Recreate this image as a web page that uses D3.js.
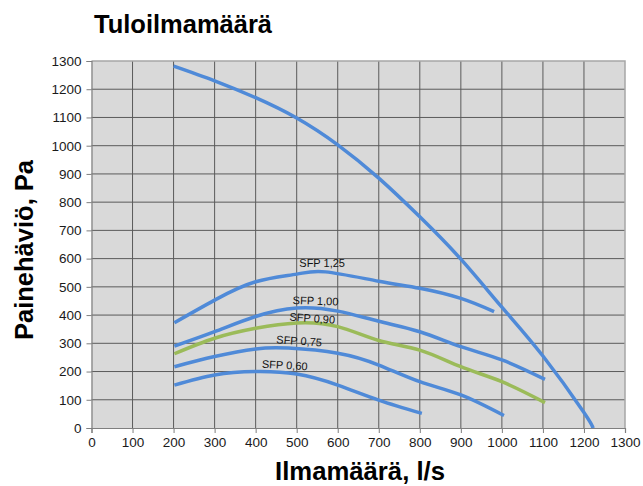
<!DOCTYPE html>
<html>
<head>
<meta charset="utf-8">
<script src="https://cdn.jsdelivr.net/npm/d3@7"></script>
<style>
  body { margin: 0; background: #fff; }
  text { font-family: "Liberation Sans", Arial, sans-serif; }
</style>
</head>
<body>
<svg id="chart" width="643" height="486"></svg>
<script>
// ilmamäärä (l/s) ja painehäviö (Pa), luettu kuvasta
var xTicks = [0,100,200,300,400,500,600,700,800,900,1000,1100,1200,1300];
var yTicks = [0,100,200,300,400,500,600,700,800,900,1000,1100,1200,1300];

var puhallin = [[200,1282],[300,1230],[400,1170],[500,1098],[600,1003],[700,885],[800,748],[900,598],[1000,428],[1100,255],[1200,55],[1222,0]];
var sfp125 = [[202,373],[300,453],[400,518],[500,545],[570,553],[700,520],[800,495],[900,459],[981,412]];
var sfp100 = [[202,290],[300,341],[400,395],[500,425],[600,414],[700,378],[800,341],[900,288],[1000,241],[1105,172]];
var sfp090 = [[202,263],[300,318],[400,353],[500,372],[600,359],[700,310],[800,276],[900,217],[1000,164],[1105,90]];
var sfp075 = [[202,217],[300,253],[400,280],[480,283],[600,265],[700,223],[800,164],[900,117],[1005,44]];
var sfp060 = [[202,152],[300,188],[400,200],[500,191],[600,152],[700,99],[805,52]];

// käyrien nimet ja nimen paikka (l/s, Pa)
var sarjat = [
  {data: puhallin, vari: "#4f8ad8"},
  {data: sfp125, vari: "#4f8ad8", nimi: "SFP 1,25", lx: 562, ly: 584, kulma: 0},
  {data: sfp100, vari: "#4f8ad8", nimi: "SFP 1,00", lx: 546, ly: 451, kulma: 2},
  {data: sfp090, vari: "#9bbb59", nimi: "SFP 0,90", lx: 538, ly: 389, kulma: 4},
  {data: sfp075, vari: "#4f8ad8", nimi: "SFP 0,75", lx: 506, ly: 309, kulma: 4},
  {data: sfp060, vari: "#4f8ad8", nimi: "SFP 0,60", lx: 471, ly: 223, kulma: 3}
];

var svg = d3.select("#chart");
var x0 = 91.5, x1 = 625, y0 = 428, y1 = 61;

var x = d3.scaleLinear().domain([0,1300]).range([x0,x1]);
var y = d3.scaleLinear().domain([0,1300]).range([y0,y1]);

// taustaväri
svg.append("rect")
  .attr("x", x0).attr("y", y1)
  .attr("width", x1-x0).attr("height", y0-y1)
  .attr("fill", "#d9d9d9");

// ruudukko
svg.append("g").selectAll("line")
  .data(xTicks.slice(1, -1))
  .enter().append("line")
  .attr("x1", function(d){ return x(d); }).attr("x2", function(d){ return x(d); })
  .attr("y1", y0).attr("y2", y1)
  .attr("stroke", "#5a5a5a").attr("stroke-width", 1);

svg.append("g").selectAll("line")
  .data(yTicks.slice(1, -1))
  .enter().append("line")
  .attr("y1", function(d){ return y(d); }).attr("y2", function(d){ return y(d); })
  .attr("x1", x0).attr("x2", x1)
  .attr("stroke", "#5a5a5a").attr("stroke-width", 1);

// yläreuna ja oikea reuna
svg.append("path")
  .attr("d", "M" + x0 + "," + y1 + "H" + x1 + "V" + y0)
  .attr("fill", "none").attr("stroke", "#a6a6a6").attr("stroke-width", 1.5);

// akselit
var xAxis = d3.axisBottom(x).tickValues(xTicks).tickFormat(d3.format("d")).tickSize(5).tickPadding(4);
var yAxis = d3.axisLeft(y).tickValues(yTicks).tickFormat(d3.format("d")).tickSize(5).tickPadding(5);

var gx = svg.append("g").attr("transform", "translate(0," + y0 + ")").call(xAxis);
var gy = svg.append("g").attr("transform", "translate(" + x0 + ",0)").call(yAxis);

[gx, gy].forEach(function(g){
  g.select(".domain").attr("stroke", "#7f7f7f").attr("stroke-width", 1.2);
  g.selectAll(".tick line").attr("stroke", "#7f7f7f");
  g.selectAll(".tick text")
    .attr("fill", "#1a1a1a")
    .style("font-size", "13.5px")
    .style("font-family", "'Liberation Sans', Arial, sans-serif");
});

// käyrät
var viiva = d3.line()
  .x(function(d){ return x(d[0]); })
  .y(function(d){ return y(d[1]); })
  .curve(d3.curveNatural);

svg.append("g").selectAll("path")
  .data(sarjat)
  .enter().append("path")
  .attr("d", function(d){ return viiva(d.data); })
  .attr("fill", "none")
  .attr("stroke", function(d){ return d.vari; })
  .attr("stroke-width", 3.5)
  .attr("stroke-linecap", "butt");

// SFP-tekstit
svg.append("g").selectAll("text")
  .data(sarjat.filter(function(d){ return d.nimi; }))
  .enter().append("text")
  .attr("transform", function(d){
    return "translate(" + x(d.lx) + "," + y(d.ly) + ") rotate(" + d.kulma + ")";
  })
  .attr("text-anchor", "middle")
  .attr("dominant-baseline", "central")
  .attr("fill", "#111")
  .style("font-size", "11px")
  .text(function(d){ return d.nimi; });

// otsikot
svg.append("text")
  .attr("x", 94).attr("y", 33)
  .attr("textLength", 178).attr("lengthAdjust", "spacingAndGlyphs")
  .style("font-size", "25px").style("font-weight", "bold")
  .attr("fill", "#000")
  .text("Tuloilmamäärä");

svg.append("text")
  .attr("x", 275).attr("y", 480)
  .attr("textLength", 170).attr("lengthAdjust", "spacingAndGlyphs")
  .style("font-size", "25px").style("font-weight", "bold")
  .attr("fill", "#000")
  .text("Ilmamäärä, l/s");

svg.append("text")
  .attr("transform", "translate(33,340) rotate(-90)")
  .attr("textLength", 180).attr("lengthAdjust", "spacingAndGlyphs")
  .style("font-size", "26px").style("font-weight", "bold")
  .attr("fill", "#000")
  .text("Painehäviö, Pa");
</script>
</body>
</html>
